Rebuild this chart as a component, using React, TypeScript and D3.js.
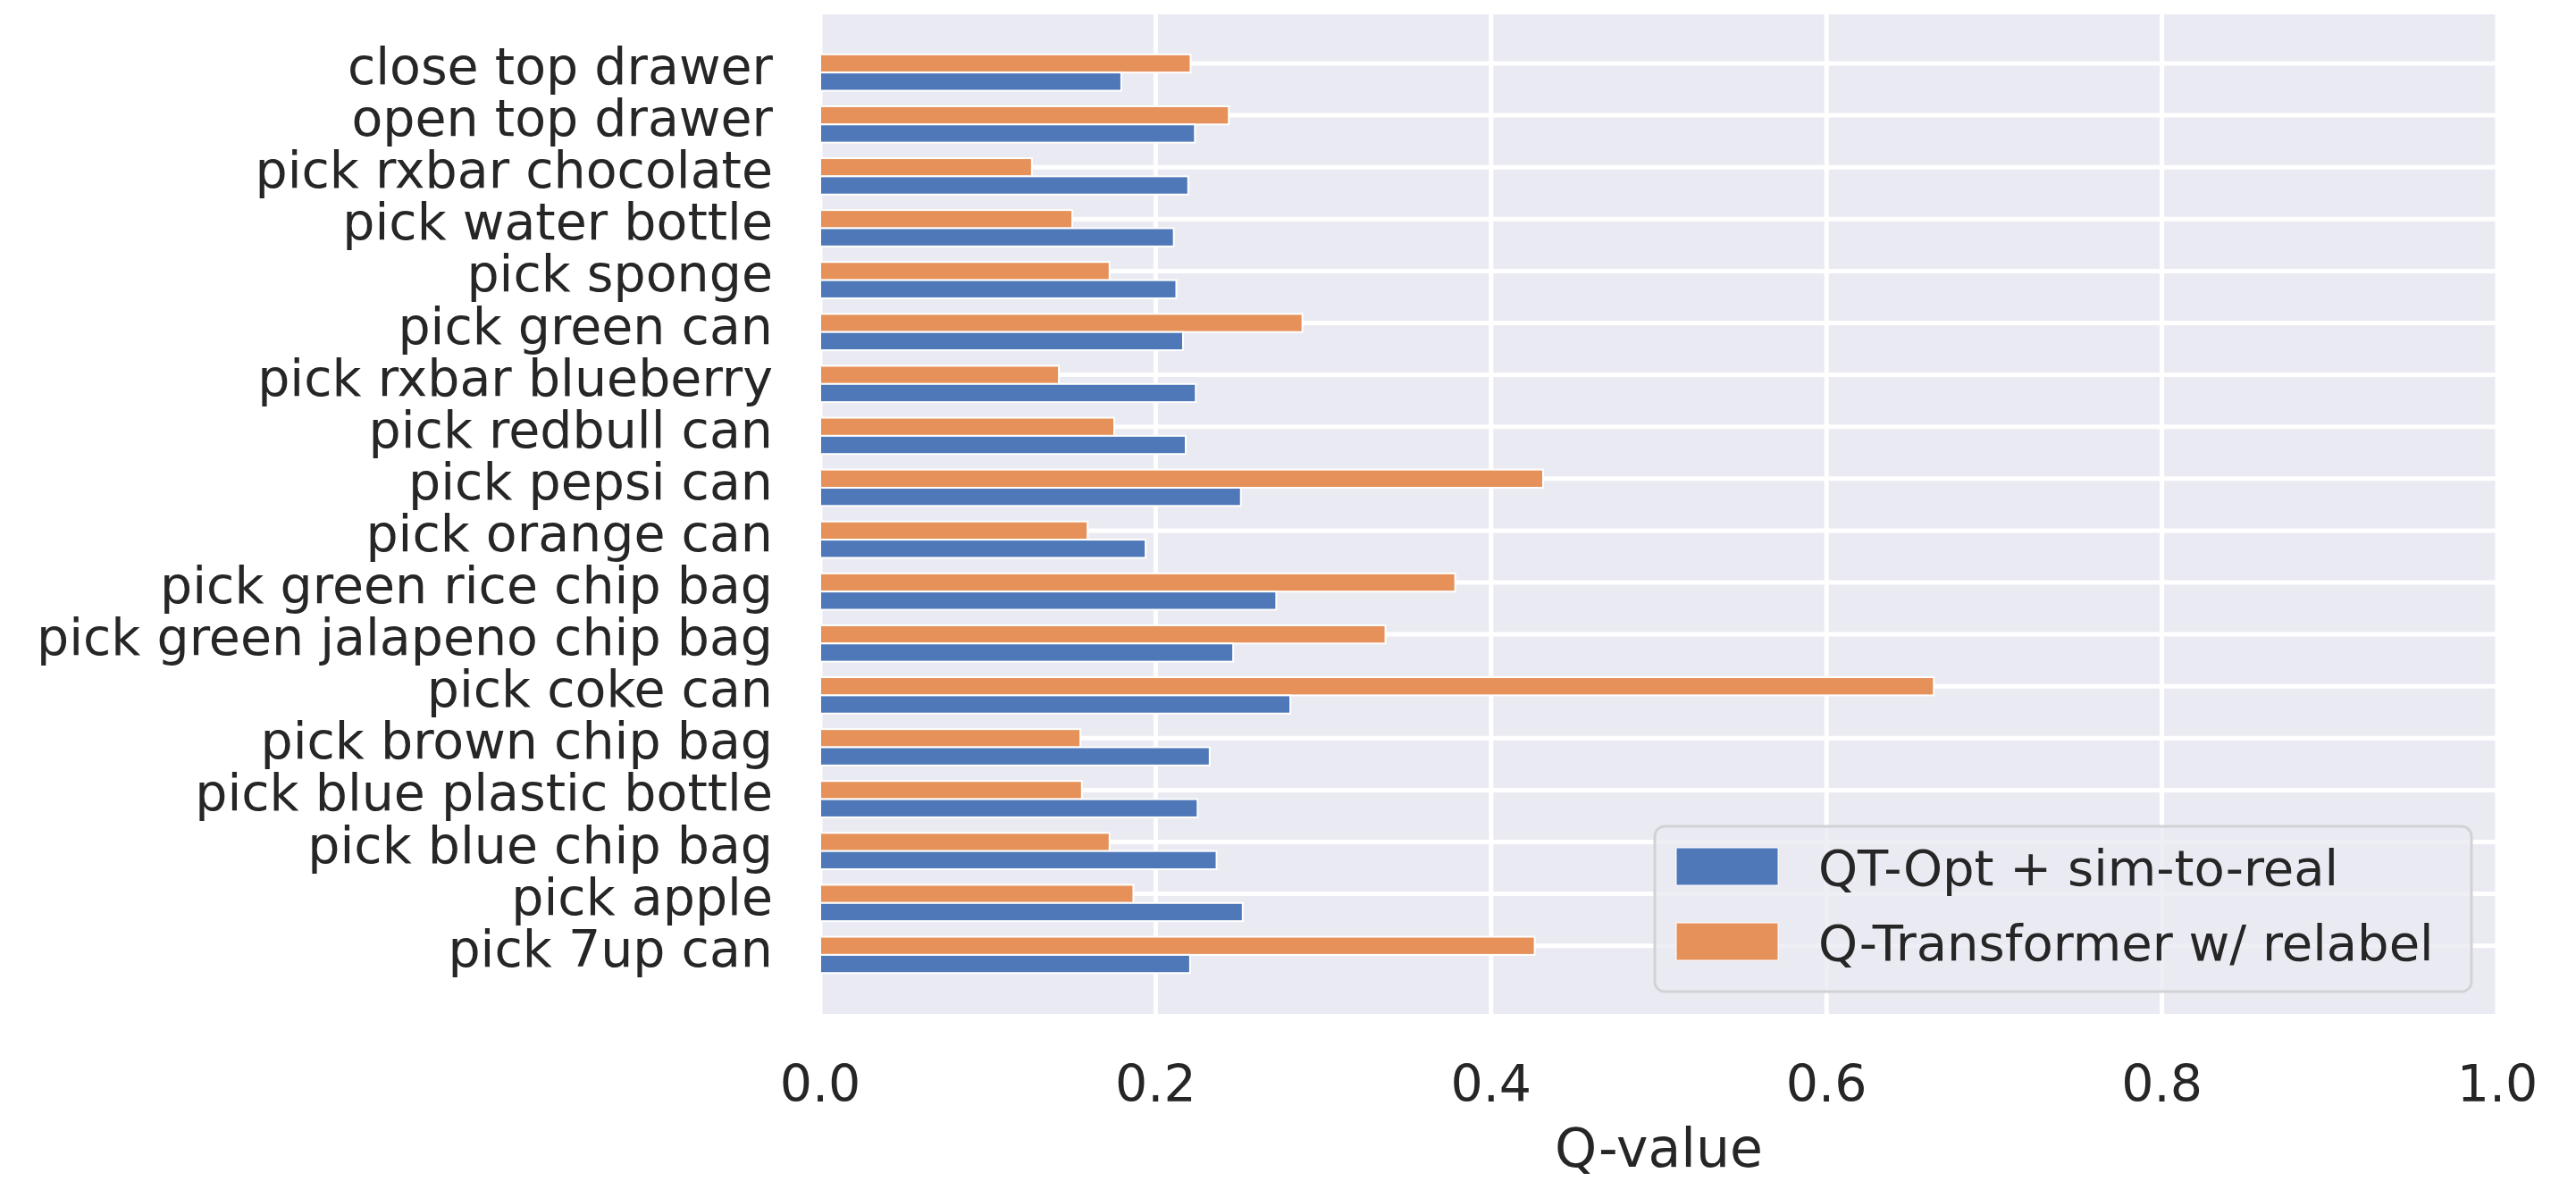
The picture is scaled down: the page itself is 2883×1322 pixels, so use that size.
import { useEffect, useRef } from 'react'
import * as d3 from 'd3'

// task labels, top to bottom
const tasks = [
  'close top drawer',
  'open top drawer',
  'pick rxbar chocolate',
  'pick water bottle',
  'pick sponge',
  'pick green can',
  'pick rxbar blueberry',
  'pick redbull can',
  'pick pepsi can',
  'pick orange can',
  'pick green rice chip bag',
  'pick green jalapeno chip bag',
  'pick coke can',
  'pick brown chip bag',
  'pick blue plastic bottle',
  'pick blue chip bag',
  'pick apple',
  'pick 7up can',
]

// QT-Opt + sim-to-real (blue)
const qtOpt = [0.1795, 0.2234, 0.2194, 0.2108, 0.2123, 0.2163, 0.2239, 0.2179, 0.2508,
  0.194, 0.2719, 0.2462, 0.2803, 0.2322, 0.225, 0.2363, 0.2519, 0.2205]

// Q-Transformer w/ relabel (orange)
const qTransformer = [0.2208, 0.2436, 0.1262, 0.1503, 0.1725, 0.2875, 0.1423, 0.1753, 0.431,
  0.1594, 0.3786, 0.337, 0.664, 0.1551, 0.156, 0.1725, 0.1867, 0.426]

const xTicks = [0, 0.2, 0.4, 0.6, 0.8, 1.0]
const seriesNames = ['QT-Opt + sim-to-real', 'Q-Transformer w/ relabel']

const BLUE = '#4e78b8'
const ORANGE = '#e6915a'
const BG = '#eaeaf2'
const TEXT = '#262626'
const FONT = "'DejaVu Sans', sans-serif"

export default function App() {
  const svgRef = useRef<SVGSVGElement | null>(null)

  useEffect(() => {
    if (!svgRef.current) return
    const W = 2883, H = 1322
    const plot = { left: 918, right: 2795, top: 16, bottom: 1135 }
    const barH = 0.35

    const svg = d3.select(svgRef.current)
    svg.selectAll('*').remove()
    svg.attr('width', W).attr('height', H)

    const x = d3.scaleLinear().domain([0, 1]).range([plot.left, plot.right])
    const y = d3.scaleLinear().domain([-0.947, 18.313]).range([plot.top, plot.bottom])

    // background
    svg.append('rect')
      .attr('x', plot.left).attr('y', plot.top)
      .attr('width', plot.right - plot.left).attr('height', plot.bottom - plot.top)
      .attr('fill', BG)

    // grid
    svg.append('g').selectAll('line')
      .data(xTicks)
      .join('line')
      .attr('x1', d => x(d)).attr('x2', d => x(d))
      .attr('y1', plot.top).attr('y2', plot.bottom)
      .attr('stroke', '#fff').attr('stroke-width', 5)

    svg.append('g').selectAll('line')
      .data(tasks)
      .join('line')
      .attr('x1', plot.left).attr('x2', plot.right)
      .attr('y1', (_, i) => y(i)).attr('y2', (_, i) => y(i))
      .attr('stroke', '#fff').attr('stroke-width', 5)

    // orange bars centred on tick, blue bars just below
    svg.append('g').selectAll('rect')
      .data(qTransformer)
      .join('rect')
      .attr('x', x(0))
      .attr('y', (_, i) => y(i - barH / 2))
      .attr('width', d => x(d) - x(0))
      .attr('height', y(barH) - y(0))
      .attr('fill', ORANGE)
      .attr('stroke', '#fff').attr('stroke-width', 2)

    svg.append('g').selectAll('rect')
      .data(qtOpt)
      .join('rect')
      .attr('x', x(0))
      .attr('y', (_, i) => y(i + barH / 2))
      .attr('width', d => x(d) - x(0))
      .attr('height', y(barH) - y(0))
      .attr('fill', BLUE)
      .attr('stroke', '#fff').attr('stroke-width', 2)

    // y tick labels
    svg.append('g').selectAll('text')
      .data(tasks)
      .join('text')
      .attr('x', plot.left - 53)
      .attr('y', (_, i) => y(i) + 23)
      .attr('text-anchor', 'end')
      .attr('font-family', FONT)
      .attr('font-size', 57)
      .attr('fill', TEXT)
      .text(d => d)

    // x tick labels
    svg.append('g').selectAll('text')
      .data(xTicks)
      .join('text')
      .attr('x', d => x(d))
      .attr('y', 1233)
      .attr('text-anchor', 'middle')
      .attr('font-family', FONT)
      .attr('font-size', 57)
      .attr('fill', TEXT)
      .text(d => d.toFixed(1))

    svg.append('text')
      .attr('x', (plot.left + plot.right) / 2)
      .attr('y', 1306)
      .attr('text-anchor', 'middle')
      .attr('font-family', FONT)
      .attr('font-size', 60)
      .attr('fill', TEXT)
      .text('Q-value')

    // legend
    const lg = svg.append('g')
    lg.append('rect')
      .attr('x', 1852).attr('y', 925)
      .attr('width', 914).attr('height', 185)
      .attr('rx', 11)
      .attr('fill', BG).attr('fill-opacity', 0.8)
      .attr('stroke', '#d2d2d6').attr('stroke-width', 3)

    const colors = [BLUE, ORANGE]
    seriesNames.forEach((name, i) => {
      const cy = 970 + i * 84
      lg.append('rect')
        .attr('x', 1876).attr('y', cy - 21)
        .attr('width', 114).attr('height', 42)
        .attr('fill', colors[i])
        .attr('stroke', '#fff').attr('stroke-width', 1)
      lg.append('text')
        .attr('x', 2035).attr('y', cy + 21)
        .attr('font-family', FONT)
        .attr('font-size', 56)
        .attr('fill', TEXT)
        .text(name)
    })
  }, [])

  return (
    <svg ref={svgRef} style={{ position: 'absolute', left: 0, top: 0, background: '#fff' }} />
  )
}
